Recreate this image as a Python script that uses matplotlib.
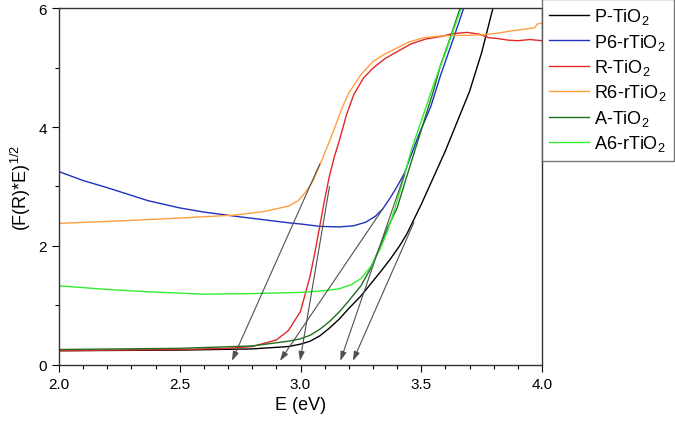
import matplotlib
matplotlib.use('Agg')
import matplotlib.pyplot as plt
from matplotlib.ticker import MultipleLocator

plt.rcParams['font.family'] = ['Liberation Sans', 'DejaVu Sans']

# P-TiO2 (black)
p_x = [2.0, 2.5, 2.8, 2.95, 3.0, 3.04, 3.08, 3.12, 3.16, 3.2, 3.25, 3.29, 3.33, 3.37,
       3.41, 3.44, 3.47, 3.5, 3.55, 3.6, 3.65, 3.7, 3.75, 3.8]
p_y = [0.24, 0.25, 0.27, 0.31, 0.35, 0.4, 0.49, 0.62, 0.77, 0.95, 1.16, 1.36, 1.56, 1.77,
       2.0, 2.2, 2.45, 2.7, 3.15, 3.6, 4.1, 4.6, 5.25, 6.05]

# P6-rTiO2 (blue)
p6_x = [2.0, 2.1, 2.2, 2.37, 2.5, 2.6, 2.73, 2.85, 2.95, 3.0, 3.08, 3.16, 3.22, 3.27,
        3.31, 3.34, 3.37, 3.4, 3.43, 3.46, 3.49, 3.54, 3.58, 3.63, 3.68]
p6_y = [3.25, 3.1, 2.98, 2.76, 2.64, 2.57, 2.5, 2.44, 2.39, 2.37, 2.33, 2.32, 2.34, 2.4,
        2.5, 2.62, 2.8, 3.0, 3.22, 3.55, 3.87, 4.35, 4.87, 5.45, 6.05]

# R-TiO2 (red)
r_x = [2.0, 2.5, 2.7, 2.8, 2.9, 2.95, 3.0, 3.02, 3.04, 3.06, 3.08, 3.1, 3.12, 3.14, 3.16,
       3.19, 3.22, 3.26, 3.3, 3.35, 3.41, 3.46, 3.52, 3.58, 3.63, 3.69, 3.74, 3.78, 3.81,
       3.86, 3.9, 3.95, 4.0]
r_y = [0.24, 0.26, 0.28, 0.31, 0.42, 0.58, 0.9, 1.2, 1.5, 1.9, 2.34, 2.78, 3.18, 3.5, 3.76,
       4.2, 4.54, 4.82, 4.99, 5.15, 5.29, 5.4, 5.48, 5.52, 5.57, 5.59, 5.56, 5.5, 5.49,
       5.46, 5.45, 5.47, 5.45]

# R6-rTiO2 (orange)
r6_x = [2.0, 2.3, 2.5, 2.73, 2.85, 2.95, 2.99, 3.02, 3.05, 3.08, 3.11, 3.14, 3.17, 3.2,
        3.25, 3.3, 3.35, 3.4, 3.45, 3.51, 3.58, 3.65, 3.7, 3.76, 3.82, 3.88, 3.94, 3.97,
        3.98, 4.0]
r6_y = [2.38, 2.43, 2.47, 2.52, 2.58, 2.67, 2.76, 2.9, 3.08, 3.36, 3.66, 3.97, 4.3, 4.57,
        4.88, 5.1, 5.23, 5.33, 5.43, 5.5, 5.53, 5.54, 5.54, 5.55, 5.58, 5.62, 5.65, 5.67,
        5.73, 5.75]

# A-TiO2 (dark green)
a_x = [2.0, 2.5, 2.8, 2.95, 3.0, 3.04, 3.08, 3.12, 3.16, 3.2, 3.25, 3.29, 3.33, 3.36,
       3.4, 3.45, 3.5, 3.55, 3.58, 3.62, 3.665]
a_y = [0.26, 0.28, 0.32, 0.4, 0.44, 0.5, 0.6, 0.73, 0.89, 1.08, 1.33, 1.62, 2.0, 2.3,
       2.64, 3.3, 3.95, 4.6, 5.04, 5.5, 6.05]

# A6-rTiO2 (light green)
a6_x = [2.0, 2.2, 2.37, 2.6, 2.8, 3.0, 3.1, 3.16, 3.21, 3.25, 3.29, 3.33, 3.36, 3.39,
        3.43, 3.46, 3.5, 3.55, 3.6, 3.67]
a6_y = [1.33, 1.27, 1.23, 1.19, 1.2, 1.22, 1.25, 1.28, 1.35, 1.45, 1.65, 1.95, 2.25, 2.62,
        3.18, 3.63, 4.1, 4.7, 5.25, 6.05]

# tangent arrows (start on curve, end near the x axis)
arrow_x0 = [3.08, 3.34, 3.12, 3.43, 3.47]
arrow_y0 = [3.38, 2.62, 3.0, 3.2, 2.4]
arrow_x1 = [2.716, 2.915, 2.998, 3.165, 3.217]
arrow_y1 = [0.07, 0.07, 0.07, 0.07, 0.07]

fig = plt.figure(figsize=(6.75, 4.27), dpi=100)
ax = fig.add_axes([0.0874, 0.1429, 0.7156, 0.836])

ax.plot(p_x, p_y, color='#000000', lw=1.0, label='P-TiO$_\\mathregular{2}$')
ax.plot(p6_x, p6_y, color='#2030c0', lw=1.0, label='P6-rTiO$_\\mathregular{2}$')
ax.plot(r_x, r_y, color='#e02828', lw=1.0, label='R-TiO$_\\mathregular{2}$')
ax.plot(r6_x, r6_y, color='#ffa040', lw=1.0, label='R6-rTiO$_\\mathregular{2}$')
ax.plot(a_x, a_y, color='#207020', lw=1.0, label='A-TiO$_\\mathregular{2}$')
ax.plot(a6_x, a6_y, color='#30ee30', lw=1.0, label='A6-rTiO$_\\mathregular{2}$')

for i in range(len(arrow_x0)):
    ax.annotate('', xy=(arrow_x1[i], arrow_y1[i]), xytext=(arrow_x0[i], arrow_y0[i]),
                arrowprops=dict(arrowstyle='-|>,head_length=0.55,head_width=0.18',
                                color='#505050', lw=0.8, shrinkA=0, shrinkB=0))

ax.set_xlim(2.0, 4.0)
ax.set_ylim(0, 6)
ax.xaxis.set_major_locator(MultipleLocator(0.5))
ax.xaxis.set_minor_locator(MultipleLocator(0.1))
ax.yaxis.set_major_locator(MultipleLocator(2))
ax.yaxis.set_minor_locator(MultipleLocator(1))
ax.xaxis.set_major_formatter(plt.FormatStrFormatter('%.1f'))
ax.tick_params(which='major', direction='out', length=5, width=0.8, labelsize=11)
ax.tick_params(which='minor', direction='out', length=3, width=0.8)
for s in ax.spines.values():
    s.set_color('#333333')
    s.set_linewidth(1.0)

ax.set_xlabel('E (eV)', fontsize=13)
ax.set_ylabel('(F(R)*E)$^{\\mathregular{1/2}}$', fontsize=13)

fig.legend(loc='upper left', bbox_to_anchor=(0.803, 1.0), fontsize=13,
           frameon=True, fancybox=False, edgecolor='#555555', handlelength=2.2,
           handletextpad=0.3, borderpad=0.4, labelspacing=0.3, borderaxespad=0)

plt.savefig('out.png', dpi=100)
plt.close()
